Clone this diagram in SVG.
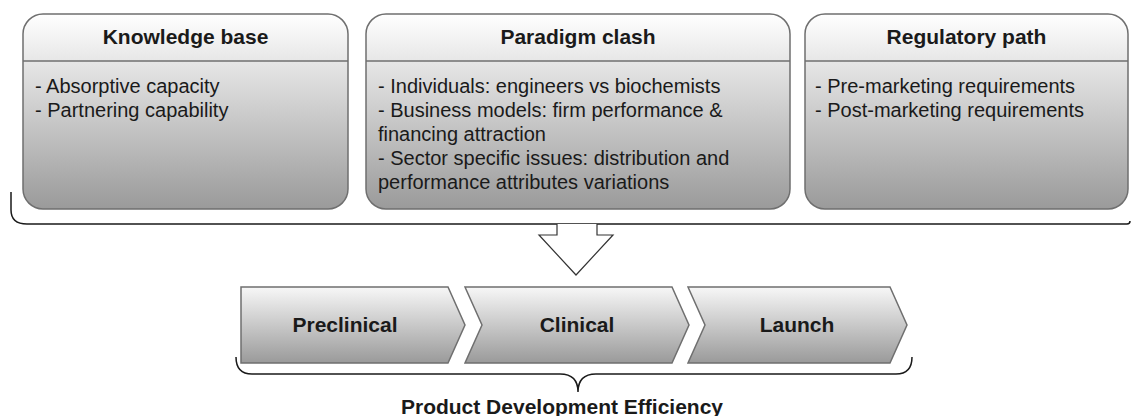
<svg xmlns="http://www.w3.org/2000/svg" width="1131" height="416" viewBox="0 0 1131 416">
  <defs>
    <linearGradient id="boxFill" x1="0" y1="0" x2="0" y2="1">
      <stop offset="0" stop-color="#ffffff"/>
      <stop offset="1" stop-color="#9a9a9a"/>
    </linearGradient>
    <linearGradient id="stepFill" x1="0" y1="0" x2="0" y2="1">
      <stop offset="0" stop-color="#f7f7f7"/>
      <stop offset="1" stop-color="#9a9a9a"/>
    </linearGradient>
  </defs>
  <style>
    .box { fill: url(#boxFill); stroke: #6f6f6f; stroke-width: 1.5; }
    .sep { stroke: #6f6f6f; stroke-width: 1.5; }
    .step { fill: url(#stepFill); stroke: #6f6f6f; stroke-width: 1.5; }
    .title { font-family: "Liberation Sans", Arial, sans-serif; font-weight: bold; font-size: 21px; fill: #1a1a1a; text-anchor: middle; }
    .body { font-family: "Liberation Sans", Arial, sans-serif; font-size: 20px; fill: #1a1a1a; }
    .brace { fill: none; stroke: #1a1a1a; stroke-width: 1.5; }
  </style>

  <!-- Factor panels -->
  <g id="knowledge-base">
    <rect class="box" x="23" y="14" width="325" height="195" rx="20" ry="20"/>
    <line class="sep" x1="23" y1="61" x2="348" y2="61"/>
    <text class="title" x="185.5" y="44">Knowledge base</text>
    <text class="body" x="35" y="93">- Absorptive capacity</text>
    <text class="body" x="35" y="117">- Partnering capability</text>
  </g>

  <g id="paradigm-clash">
    <rect class="box" x="366" y="14" width="424" height="195" rx="20" ry="20"/>
    <line class="sep" x1="366" y1="61" x2="790" y2="61"/>
    <text class="title" x="578" y="44">Paradigm clash</text>
    <text class="body" x="378" y="93">- Individuals: engineers vs biochemists</text>
    <text class="body" x="378" y="117">- Business models: firm performance &amp;</text>
    <text class="body" x="378" y="141">financing attraction</text>
    <text class="body" x="378" y="165">- Sector specific issues: distribution and</text>
    <text class="body" x="378" y="189">performance attributes variations</text>
  </g>

  <g id="regulatory-path">
    <rect class="box" x="805" y="14" width="323" height="195" rx="20" ry="20"/>
    <line class="sep" x1="805" y1="61" x2="1128" y2="61"/>
    <text class="title" x="966.5" y="44">Regulatory path</text>
    <text class="body" x="815" y="93">- Pre-marketing requirements</text>
    <text class="body" x="815" y="117">- Post-marketing requirements</text>
  </g>

  <!-- Brackets and the block arrow between the two rows -->
  <g id="connectors">
    <path class="brace" d="M11,192 L11,210 Q11,224 27,224 L1127,224 Q1130,224 1130,221"/>
    <polyline points="557,224 557,235 539,235 576,275 613,235 597,235 597,224" fill="#ffffff" stroke="#333333" stroke-width="1.2"/>
    <path class="brace" d="M236,357 Q236,374 252,374 L560,374 Q578,374 578,392 Q578,374 596,374 L896,374 Q912,374 912,357"/>
  </g>

  <!-- Development stages -->
  <g id="preclinical">
    <path class="step" d="M241,287 L448,287 L465,325 L448,363 L241,363 Z"/>
    <text class="title" x="345" y="332">Preclinical</text>
  </g>
  <g id="clinical">
    <path class="step" d="M465,287 L672,287 L689,325 L672,363 L465,363 L482,325 Z"/>
    <text class="title" x="577" y="332">Clinical</text>
  </g>
  <g id="launch">
    <path class="step" d="M688,287 L890,287 L907,325 L890,363 L688,363 L705,325 Z"/>
    <text class="title" x="797" y="332">Launch</text>
  </g>

  <g id="efficiency-label">
    <text class="title" x="562" y="414">Product Development Efficiency</text>
  </g>
</svg>
